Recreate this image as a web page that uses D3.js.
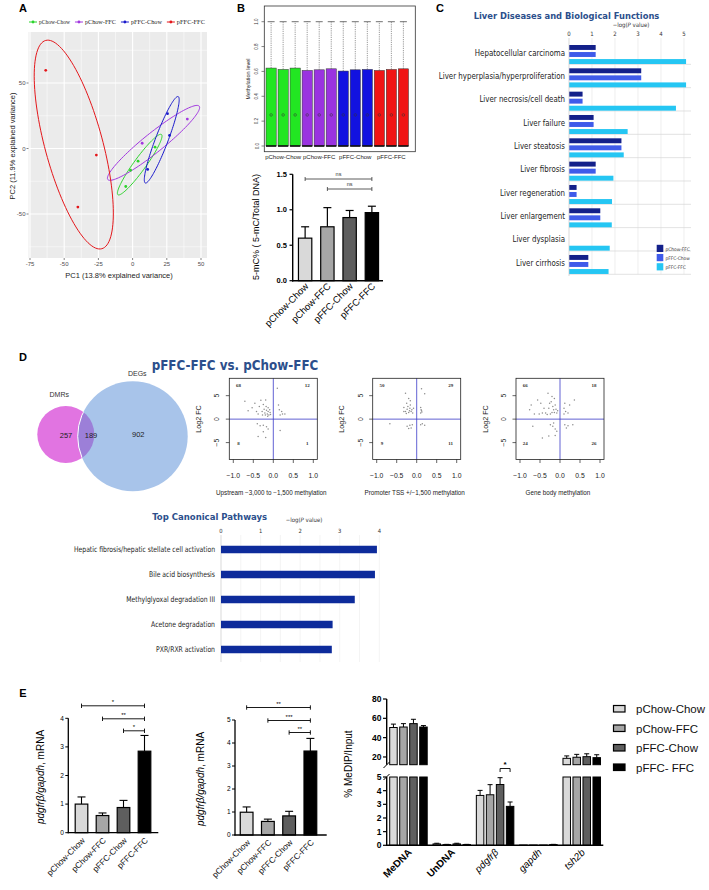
<!DOCTYPE html>
<html><head><meta charset="utf-8">
<script src="https://cdn.jsdelivr.net/npm/d3@7"></script>
<style>body{margin:0;background:#fff}svg{display:block}</style>
</head><body><svg id="c" width="709" height="890"></svg>
<script>
// ---------------- DATA ----------------
// Panel A (PCA)
const pcaGroups=['pChow-Chow','pChow-FFC','pFFC-Chow','pFFC-FFC'];
const pcaPC1=[[-5,4,-1.5,16.4],[7,40],[25.5,27,11],[-63.5,-26.5,-40]];
const pcaPC2=[[-29,-9.7,-16.6,1],[4,22.5],[26.6,10,-16],[59.7,-5,-44.7]];
const ellCenter=[[5.2,-12.3],[15.3,4.3],[21.3,6.65],[-43,3]];
const ellMajor=[[15.9,23],[33.4,28],[12,33],[-20.5,79.5]];
const ellMinor=[[3.6,-2.7],[4.5,-5.8],[4.3,-1.7],[20.4,5.7]];
const pcaXTicks=[-75,-50,-25,0,25,50];
const pcaYTicks=[-50,0,50];
// Panel B top (methylation level boxplots)
const boxGroup=[0,0,0,1,1,1,2,2,2,3,3,3];
const boxQ1=[0,0,0,0,0,0,0,0,0,0,0,0];
const boxQ3=[0.627,0.616,0.627,0.608,0.613,0.621,0.603,0.613,0.616,0.608,0.616,0.621];
const boxMean=[0.25,0.25,0.25,0.25,0.25,0.25,0.25,0.25,0.25,0.25,0.25,0.25];
const boxMax=[1,1,1,1,1,1,1,1,1,1,1,1];
const boxYTicks=[0,0.2,0.4,0.6,0.8,1.0];
// Panel B bottom (5-mC%)
const mcGroups=['pChow-Chow','pChow-FFC','pFFC-Chow','pFFC-FFC'];
const mcValues=[0.6,0.76,0.89,0.96];
const mcErr=[0.16,0.27,0.10,0.09];
const mcTicks=[0,0.5,1.0,1.5];
// Panel C
const ldCategories=['Hepatocellular carcinoma','Liver hyperplasia/hyperproliferation','Liver necrosis/cell death','Liver failure','Liver steatosis','Liver fibrosis','Liver regeneration','Liver enlargement','Liver dysplasia','Liver cirrhosis'];
const ldSeries=['pChow-FFC','pFFC-Chow','pFFC-FFC'];
const ldChowFFC=[1.16,3.14,0.59,1.07,2.28,1.16,0.33,1.36,0,0.84];
const ldFFCChow=[1.16,3.14,0.59,1.07,2.28,1.16,0.33,1.36,0,0.84];
const ldFFCFFC=[5.09,5.09,4.65,2.55,2.38,1.93,1.87,1.86,1.77,1.72];
const ldTicks=[0,1,2,3,4,5];
// Panel D Venn
const vennSets=['DMRs','DEGs'];
const vennCounts=[257,189,902];
// Panel D scatter plots
const scatterTitles=['Upstream \u22123,000 to \u22121,500 methylation','Promoter TSS +/\u22121,500 methylation','Gene body methylation'];
const quadCounts=[[68,12,8,1],[50,29,9,11],[66,18,24,26]];
const scatterXTicks=[-1,-0.5,0,0.5,1];
const scatterYTicks=[-5,0,5];
const scatterUpstream=[[-0.71,3.8],[-0.63,1.8],[-0.53,2.4],[-0.46,3.4],[-0.42,1.6],[-0.35,2.7],[-0.31,4.0],[-0.28,1.6],[-0.25,3.1],[-0.23,2.1],[-0.21,1.3],[-0.19,4.1],[-0.18,2.7],[-0.17,1.9],[-0.15,1.1],[-0.13,2.4],[-0.13,1.6],[-0.11,0.9],[-0.09,2.0],[-0.08,1.4],[-0.07,1.0],[-0.27,0.9],[-0.38,1.1],[-0.2,0.9],[-0.14,0.6],
 [0.1,6.6],[0.13,3.0],[0.15,2.0],[0.21,1.6],[0.23,1.1],[0.29,1.1],[0.17,0.9],
 [-0.4,-1.0],[-0.33,-1.4],[-0.25,-1.3],[-0.17,-1.6],[-0.13,-2.1],[-0.38,-3.7],[-0.19,-3.9],[-0.25,-2.7],
 [0.17,-2.4]];
const scatterPromoter=[[-0.28,5.5],[-0.2,4.4],[-0.16,3.9],[-0.25,3.4],[-0.32,2.5],[-0.24,2.1],[-0.17,2.3],[-0.12,2.0],[-0.28,1.6],[-0.2,1.4],[-0.14,1.6],[-0.1,1.3],[-0.22,2.7],[-0.16,3.0],[-0.08,2.3],[-0.32,1.6],[-0.18,1.8],[-0.26,1.2],
 [0.12,6.5],[0.2,5.4],[0.1,2.5],[0.11,2.0],[0.13,1.5],[0.1,1.3],[0.12,1.8],
 [-0.67,-1.0],[-0.24,-1.5],[-0.17,-1.3],[-0.14,-1.9],[-0.2,-2.0],[-0.11,-1.2],
 [0.1,-1.2],[0.2,-1.3],[0.14,-1.0]];
const scatterGeneBody=[[-0.72,3.0],[-0.56,4.1],[-0.76,2.0],[-0.64,1.1],[-0.52,1.1],[-0.44,1.3],[-0.36,1.3],[-0.28,2.3],[-0.26,3.4],[-0.3,5.5],[-0.2,4.8],[-0.22,3.7],[-0.18,2.7],[-0.16,2.0],[-0.14,1.4],[-0.12,3.0],[-0.1,2.1],[-0.08,1.3],[-0.2,1.4],[-0.24,1.1],[-0.32,1.0],[-0.4,2.3],[-0.48,3.4],[-0.06,1.8],[-0.14,4.4],
 [0.12,3.4],[0.1,2.3],[0.14,1.6],[0.1,1.1],[0.2,1.3],[0.36,4.1],[0.24,3.0],
 [-0.68,-1.5],[-0.44,-4.0],[-0.28,-3.6],[-0.12,-3.5],[-0.24,-1.2],[-0.18,-1.5],[-0.12,-2.1],[-0.08,-2.6],[-0.16,-0.8],
 [0.12,-1.2],[0.2,-1.4],[0.32,-1.2],[0.16,-1.9]];
// Panel D canonical pathways
const cpPathways=['Hepatic fibrosis/hepatic stellate cell activation','Bile acid biosynthesis','Methylglyoxal degradation III','Acetone degradation','PXR/RXR activation'];
const cpValues=[3.94,3.89,3.38,2.82,2.8];
const cpTicks=[0,1,2,3,4];
// Panel E
const eGroups=['pChow-Chow','pChow-FFC','pFFC-Chow','pFFC-FFC'];
const e1Values=[1.0,0.6,0.88,2.85];
const e1Err=[0.25,0.09,0.25,0.55];
const e1Ticks=[0,1,2,3,4];
const e1Sig=[[0,3,'*'],[1,3,'**'],[2,3,'*']];
const e2Values=[0.99,0.59,0.83,3.65];
const e2Err=[0.23,0.1,0.2,0.55];
const e2Ticks=[0,1,2,3,4,5];
const e2Sig=[[0,3,'**'],[1,3,'***'],[2,3,'**']];
const e3Genes=['MeDNA','UnDNA','pdgfr\u03b2','gapdh','tsh2b'];
const e3Series=['pChow-Chow','pChow-FFC','pFFC-Chow','pFFC- FFC'];
const e3ChowChow=[50.5,0.1,3.65,0.02,18.6];
const e3ChowFFC=[51,0.05,3.7,0.02,19.7];
const e3FFCChow=[54.5,0.1,4.45,0.02,20.3];
const e3FFCFFC=[51,0.05,2.85,0.05,19.3];
const e3ErrChowChow=[3.5,0.05,0.37,0,2.5];
const e3ErrChowFFC=[3.5,0.02,0.74,0,3];
const e3ErrFFCChow=[4.5,0.05,0.5,0,3];
const e3ErrFFCFFC=[1.5,0.02,0.32,0.02,3];
const e3UpperTicks=[20,40,60,80];
const e3LowerTicks=[0,1,2,3,4,5];

// ---------------- STYLE ----------------
const SANS='"Liberation Sans",Arial,Helvetica,sans-serif';
const NARROW='"Liberation Sans Narrow","Arial Narrow","DejaVu Sans Condensed",sans-serif';
const SERIF='"Liberation Serif","Times New Roman",serif';
const pcaColors=['#2bd42b','#a238e0','#1a1acc','#e4171b'];
const boxColors=['#22e622','#9a33e0','#1212e0','#f01515'];
const greyFills=['#d9d9d9','#a6a6a6','#5e5e5e','#000000'];
const ldColors=['#13208a','#3f5bea','#25c6f3'];
const titleBlue='#2c4f8c';

const svg=d3.select('#c');
svg.append('rect').attr('width',709).attr('height',890).attr('fill','#fff');
const defs=svg.append('defs');

function T(g,x,y,s,o={}){
  const t=g.append('text').attr('x',x).attr('y',y).text(s)
    .attr('font-family',o.ff||SANS).attr('font-size',o.fs||8).attr('fill',o.fill||'#000')
    .attr('text-anchor',o.anchor||'start');
  if(o.fw) t.attr('font-weight',o.fw);
  if(o.fst) t.attr('font-style',o.fst);
  if(o.dy) t.attr('dy',o.dy);
  if(o.rot!=null) t.attr('transform',`rotate(${o.rot},${x},${y})`);
  return t;
}
// shrink font so the natural width is at most `target`
function fit(t,target){
  const w=t.node().getComputedTextLength();
  if(w>target) t.attr('font-size',(+t.attr('font-size'))*target/w);
  return t;
}
// horizontal squeeze keeping height
function squeeze(t,f){
  const w=t.node().getComputedTextLength();
  t.attr('textLength',w*f).attr('lengthAdjust','spacingAndGlyphs');
  return t;
}
function L(g,x1,y1,x2,y2,c,w,dash){
  const l=g.append('line').attr('x1',x1).attr('y1',y1).attr('x2',x2).attr('y2',y2)
    .attr('stroke',c||'#000').attr('stroke-width',w||1);
  if(dash) l.attr('stroke-dasharray',dash);
  return l;
}

// panel letters
[['A',23,12],['B',241,12],['C',440,12],['D',23,361],['E',23,697]].forEach(d=>T(svg,d[1],d[2],d[0],{fs:11,fw:'bold',anchor:'middle'}));

// ================= PANEL A =================
(function(){
  const g=svg.append('g');
  const xA=d3.scaleLinear().domain([-75,50]).range([30,201]);
  const yA=d3.scaleLinear().domain([-50,50]).range([214,83]);
  const P={l:28.5,r:207,t:32,b:258};
  defs.append('clipPath').attr('id','clipA').append('rect').attr('x',P.l).attr('y',P.t).attr('width',P.r-P.l).attr('height',P.b-P.t);
  g.append('rect').attr('x',P.l).attr('y',P.t).attr('width',P.r-P.l).attr('height',P.b-P.t).attr('fill','#ebebeb');
  const gg=g.append('g').attr('clip-path','url(#clipA)');
  const xMinor=pcaXTicks.slice(1).map((v,i)=>(v+pcaXTicks[i])/2);
  const yMinor=[pcaYTicks[0]-25].concat(pcaYTicks.map(v=>v+25));
  xMinor.forEach(v=>L(gg,xA(v),P.t,xA(v),P.b,'#fff',0.5));
  yMinor.forEach(v=>L(gg,P.l,yA(v),P.r,yA(v),'#fff',0.5));
  pcaXTicks.forEach(v=>L(gg,xA(v),P.t,xA(v),P.b,'#fff',1.1));
  pcaYTicks.forEach(v=>L(gg,P.l,yA(v),P.r,yA(v),'#fff',1.1));
  ellCenter.forEach((c,i)=>{
    const pts=d3.range(0,2*Math.PI+0.01,Math.PI/60).map(t=>[
      xA(c[0]+ellMajor[i][0]*Math.cos(t)+ellMinor[i][0]*Math.sin(t)),
      yA(c[1]+ellMajor[i][1]*Math.cos(t)+ellMinor[i][1]*Math.sin(t))]);
    g.append('path').attr('d',d3.line()(pts)).attr('fill','none').attr('stroke',pcaColors[i]).attr('stroke-width',1);
  });
  pcaPC1.forEach((arr,i)=>arr.forEach((v,j)=>{
    g.append('circle').attr('cx',xA(v)).attr('cy',yA(pcaPC2[i][j])).attr('r',1.4).attr('fill',pcaColors[i]);
  }));
  pcaXTicks.forEach(v=>{L(g,xA(v),P.b,xA(v),P.b+2,'#333',0.6);T(g,xA(v),P.b+8,String(v),{fs:6,fill:'#4d4d4d',anchor:'middle'});});
  pcaYTicks.forEach(v=>{L(g,P.l-2,yA(v),P.l,yA(v),'#333',0.6);T(g,P.l-3,yA(v)+2,String(v),{fs:6,fill:'#4d4d4d',anchor:'end'});});
  T(g,119,278,'PC1 (13.8% explained variance)',{fs:7.5,anchor:'middle',fill:'#222'});
  T(g,15,146,'PC2 (11.9% explained variance)',{fs:7.5,anchor:'middle',fill:'#222',rot:-90});
  // legend, laid out sequentially
  let lx=29;
  pcaGroups.forEach((s,i)=>{
    L(g,lx,22,lx+8,22,pcaColors[i],1);
    g.append('circle').attr('cx',lx+4).attr('cy',22).attr('r',1.4).attr('fill',pcaColors[i]);
    const t=T(g,lx+10,24.2,s,{fs:6.4,ff:SERIF,fill:'#222'});
    fit(t,31);
    lx+=10+t.node().getComputedTextLength()+5;
  });
})();

// ================= PANEL B top =================
(function(){
  const g=svg.append('g');
  const y=d3.scaleLinear().domain([0,1]).range([146,21.7]);
  const x=d3.scaleBand().domain(d3.range(12)).range([266,408.5]).paddingInner(0.15);
  g.append('rect').attr('x',264.3).attr('y',6).attr('width',151).attr('height',145.7).attr('fill','none').attr('stroke','#333').attr('stroke-width',0.8);
  boxQ3.forEach((q3,i)=>{
    const x0=x(i), w=x.bandwidth(), cx=x0+w/2;
    L(g,cx,y(q3),cx,y(boxMax[i]),'#555',0.6,'1.2,1');
    L(g,cx-3.5,y(boxMax[i]),cx+3.5,y(boxMax[i]),'#333',0.7);
    g.append('rect').attr('x',x0).attr('y',y(q3)).attr('width',w).attr('height',y(boxQ1[i])-y(q3))
      .attr('fill',boxColors[boxGroup[i]]).attr('stroke','#333').attr('stroke-width',0.5);
    L(g,x0,y(boxQ1[i]),x0+w,y(boxQ1[i]),'#111',1.6);
    g.append('circle').attr('cx',cx).attr('cy',y(boxMean[i])).attr('r',1.3).attr('fill','none').attr('stroke','#333').attr('stroke-width',0.5);
  });
  boxYTicks.forEach(v=>{L(g,261.5,y(v),264.3,y(v),'#333',0.6);T(g,258.5,y(v),v.toFixed(1),{fs:4.5,anchor:'middle',rot:-90,fill:'#333'});});
  T(g,250,79,'Methylation level',{fs:5.5,anchor:'middle',rot:-90,fill:'#222'});
  mcGroups.forEach((s,gi)=>{
    const cx=(x(gi*3)+x(gi*3+2)+x.bandwidth())/2;
    T(g,cx,158.5,s,{fs:6,anchor:'middle',fill:'#222'});
  });
})();

// ================= PANEL B bottom =================
(function(){
  const g=svg.append('g');
  const y=d3.scaleLinear().domain([0,1.5]).range([280.7,174.3]);
  const x=d3.scaleBand().domain(mcGroups).range([294,383]).paddingInner(0.4).paddingOuter(0.2);
  mcGroups.forEach((s,i)=>{
    const x0=x(s),w=x.bandwidth(),cx=x0+w/2;
    L(g,cx,y(mcValues[i]),cx,y(mcValues[i]+mcErr[i]),'#000',1.2);
    L(g,cx-4,y(mcValues[i]+mcErr[i]),cx+4,y(mcValues[i]+mcErr[i]),'#000',1.2);
    g.append('rect').attr('x',x0).attr('y',y(mcValues[i])).attr('width',w).attr('height',y(0)-y(mcValues[i]))
      .attr('fill',greyFills[i]).attr('stroke','#000').attr('stroke-width',1.2);
    T(g,cx+4,287,s,{fs:9.5,anchor:'end',rot:-45});
  });
  L(g,292.7,174.3,292.7,281.4,'#000',1.4);
  L(g,292,280.7,383,280.7,'#000',1.4);
  mcTicks.forEach(v=>{L(g,289.5,y(v),292.7,y(v),'#000',1.2);T(g,287,y(v)+2.6,v.toFixed(1),{fs:7.5,fw:'bold',anchor:'end'});});
  T(g,259,227,'5-mC% ( 5-mC/Total DNA)',{fs:9,anchor:'middle',rot:-90});
  const cx=i=>x(mcGroups[i])+x.bandwidth()/2;
  [[0,3,179,'ns'],[1,3,189,'ns']].forEach(b=>{
    L(g,cx(b[0]),b[2],cx(b[1]),b[2],'#333',0.8);
    L(g,cx(b[0]),b[2]-2,cx(b[0]),b[2]+2,'#333',0.8);
    L(g,cx(b[1]),b[2]-2,cx(b[1]),b[2]+2,'#333',0.8);
    T(g,(cx(b[0])+cx(b[1]))/2,b[2]-3,b[3],{fs:5.5,anchor:'middle',fill:'#333'});
  });
})();

// ================= PANEL C =================
(function(){
  const g=svg.append('g');
  const x=d3.scaleLinear().domain([0,5]).range([569,684]);
  const y=d3.scaleBand().domain(ldCategories).range([41,274.3]);
  const yi=d3.scaleBand().domain(ldSeries).range([4,23]).paddingInner(0.3);
  const series=[ldChowFFC,ldFFCChow,ldFFCFFC];
  fit(T(g,566.5,19,'Liver Diseases and Biological Functions',{fs:13,fw:'bold',ff:NARROW,fill:titleBlue,anchor:'middle'}),186);
  const ax=T(g,631,27,'',{fs:6,anchor:'middle',ff:NARROW,fill:'#333'});
  ax.append('tspan').text('\u2212log(');ax.append('tspan').attr('font-style','italic').text('P');ax.append('tspan').text(' value)');
  ldTicks.forEach(v=>{ if(v>0) L(g,x(v),38,x(v),274.3,'#e3e3e3',0.6); T(g,x(v),36.3,String(v),{fs:6,anchor:'middle',ff:NARROW,fill:'#333'});});
  ldCategories.forEach((c,i)=>{
    L(g,569,y(c)+y.bandwidth(),691,y(c)+y.bandwidth(),'#d6d6d6',0.7);
    series.forEach((s,k)=>{
      if(s[i]>0) g.append('rect').attr('x',x(0)).attr('y',y(c)+yi(ldSeries[k])).attr('width',x(s[i])-x(0)).attr('height',yi.bandwidth()).attr('fill',ldColors[k]);
    });
    squeeze(T(g,565,y(c)+y.bandwidth()/2+3,c,{fs:9,anchor:'end',ff:NARROW,fill:'#222'}),0.87);
  });
  L(g,569,38,569,276,'#c8c8c8',0.7);
  ldSeries.forEach((s,k)=>{
    g.append('rect').attr('x',656.7).attr('y',244.8+k*9.2).attr('width',6.6).attr('height',7.2).attr('fill',ldColors[k]);
    T(g,665.5,250.5+k*9.2,s,{fs:4.8,ff:NARROW,fill:'#333'});
  });
})();

// ================= PANEL D =================
(function(){
  const g=svg.append('g');
  fit(T(g,235,369.5,'pFFC-FFC vs. pChow-FFC',{fs:17,fw:'bold',ff:NARROW,fill:titleBlue,anchor:'middle'}),167);
  // Venn
  const cP={x:65.8,y:434.5,r:28.5}, cB={x:132.7,y:436.3,r:55};
  defs.append('clipPath').attr('id','clipPink').append('circle').attr('cx',cP.x).attr('cy',cP.y).attr('r',cP.r);
  g.append('circle').attr('cx',cP.x).attr('cy',cP.y).attr('r',cP.r).attr('fill','#e174e1');
  g.append('circle').attr('cx',cB.x).attr('cy',cB.y).attr('r',cB.r).attr('fill','#a8c4ea');
  g.append('circle').attr('cx',cB.x).attr('cy',cB.y).attr('r',cB.r).attr('fill','#9c7fd8').attr('clip-path','url(#clipPink)');
  g.append('circle').attr('cx',cB.x).attr('cy',cB.y).attr('r',cB.r).attr('fill','none').attr('stroke','#fff').attr('stroke-width',1).attr('clip-path','url(#clipPink)');
  T(g,66,437.5,String(vennCounts[0]),{fs:7.5,anchor:'middle',fill:'#222'});
  T(g,91,437.5,String(vennCounts[1]),{fs:7.5,anchor:'middle',fill:'#222'});
  T(g,138.3,436.5,String(vennCounts[2]),{fs:7.5,anchor:'middle',fill:'#222'});
  T(g,59.3,396.5,vennSets[0],{fs:7,anchor:'middle',fill:'#333'});
  T(g,137.3,375.5,vennSets[1],{fs:7,anchor:'middle',fill:'#333'});
  // scatters
  const lefts=[229.3,372.7,516];
  [scatterUpstream,scatterPromoter,scatterGeneBody].forEach((pts,k)=>{
    const left=lefts[k];
    const x=d3.scaleLinear().domain([-1.1,1.1]).range([left,left+88]);
    const y=d3.scaleLinear().domain([-8.6,8.7]).range([459.5,378.3]);
    L(g,x(0),378.3,x(0),459.5,'#3a3ac8',0.8);
    L(g,left,y(0),left+88,y(0),'#3a3ac8',0.8);
    g.append('g').selectAll('circle').data(pts).join('circle').attr('cx',d=>x(d[0])).attr('cy',d=>y(d[1])).attr('r',0.75).attr('fill','#8c8c8c');
    g.append('rect').attr('x',left).attr('y',378.3).attr('width',88).attr('height',81.2).attr('fill','none').attr('stroke','#222').attr('stroke-width',0.8);
    scatterXTicks.forEach(v=>{L(g,x(v),459.5,x(v),463,'#222',0.7);T(g,x(v),477.5,v.toFixed(1).replace('-','\u2212'),{fs:6.8,anchor:'middle',fill:'#222'});});
    scatterYTicks.forEach(v=>{L(g,left-3.5,y(v),left,y(v),'#222',0.7);T(g,left-10,y(v),String(v).replace('-','\u2212'),{fs:6.8,anchor:'middle',rot:-90,fill:'#222'});});
    const q=quadCounts[k];
    T(g,x(-0.87),y(6.8),String(q[0]),{fs:5,anchor:'middle',ff:SERIF,fw:'bold',fill:'#333'});
    T(g,x(0.85),y(6.8),String(q[1]),{fs:5,anchor:'middle',ff:SERIF,fw:'bold',fill:'#333'});
    T(g,x(-0.87),y(-5.6),String(q[2]),{fs:5,anchor:'middle',ff:SERIF,fw:'bold',fill:'#333'});
    T(g,x(0.85),y(-5.6),String(q[3]),{fs:5,anchor:'middle',ff:SERIF,fw:'bold',fill:'#333'});
    T(g,left-28.5,419,'Log2 FC',{fs:7.2,anchor:'middle',rot:-90,fill:'#222'});
    T(g,left+42,495,scatterTitles[k],{fs:6.3,anchor:'middle',fill:'#222'});
  });
  // canonical pathways
  const xp=d3.scaleLinear().domain([0,4]).range([221,379.3]);
  const yp=d3.scaleBand().domain(cpPathways).range([537,662]).paddingInner(0.7).paddingOuter(0.35);
  fit(T(g,209.7,519.5,'Top Canonical Pathways',{fs:13,fw:'bold',ff:NARROW,fill:titleBlue,anchor:'middle'}),115);
  const ax=T(g,304,522,'',{fs:6,anchor:'middle',ff:NARROW,fill:'#333'});
  ax.append('tspan').text('\u2212log(');ax.append('tspan').attr('font-style','italic').text('P');ax.append('tspan').text(' value)');
  d3.range(0.5,4.01,0.5).forEach(v=>L(g,xp(v),535,xp(v),662,'#ececec',0.6));
  cpTicks.forEach(v=>T(g,xp(v),533,String(v),{fs:5.8,anchor:'middle',ff:NARROW,fill:'#333'}));
  L(g,221,535,221,662,'#c8c8c8',0.7);
  cpPathways.forEach((p,i)=>{
    g.append('rect').attr('x',xp(0)).attr('y',yp(p)).attr('width',xp(cpValues[i])-xp(0)).attr('height',yp.bandwidth()).attr('fill','#0d2b9b');
    squeeze(T(g,215,yp(p)+yp.bandwidth()/2+2.8,p,{fs:7.8,anchor:'end',ff:NARROW,fill:'#222'}),0.87);
  });
})();

// ================= PANEL E =================
function barPanel(vals,errs,ticks,sig,yRange,xRange,axisX,axisRight,labelX,labelY,xlabY){
  const g=svg.append('g');
  const y=d3.scaleLinear().domain([0,ticks[ticks.length-1]]).range(yRange);
  const x=d3.scaleBand().domain(eGroups).range(xRange).paddingInner(0.4).paddingOuter(0.2);
  const cx=i=>x(eGroups[i])+x.bandwidth()/2;
  eGroups.forEach((s,i)=>{
    L(g,cx(i),y(vals[i]),cx(i),y(vals[i]+errs[i]),'#000',1.1);
    L(g,cx(i)-4,y(vals[i]+errs[i]),cx(i)+4,y(vals[i]+errs[i]),'#000',1.1);
    g.append('rect').attr('x',x(s)).attr('y',y(vals[i])).attr('width',x.bandwidth()).attr('height',y(0)-y(vals[i]))
      .attr('fill',greyFills[i]).attr('stroke','#000').attr('stroke-width',1.2);
    T(g,cx(i)+4,xlabY,s,{fs:8.3,anchor:'end',rot:-45,fill:'#111'});
  });
  L(g,axisX,yRange[1],axisX,yRange[0]+0.6,'#000',1.3);
  L(g,axisX-0.6,yRange[0],axisRight,yRange[0],'#000',1.3);
  ticks.forEach(v=>{L(g,axisX-3,y(v),axisX,y(v),'#000',1);T(g,axisX-4.5,y(v)+2.3,String(v),{fs:6.5,anchor:'end'});});
  const yl=g.append('text').attr('transform',`translate(${labelX},${labelY}) rotate(-90)`).attr('text-anchor','middle').attr('font-size',10).attr('font-family',SANS);
  yl.append('tspan').attr('font-style','italic').text('pdgfr\u03b2/gapdh');
  yl.append('tspan').text(', mRNA');
  const by=[yRange[1]-12.5,yRange[1]+0.5,yRange[1]+12.5];
  sig.forEach((b,k)=>{
    L(g,cx(b[0]),by[k],cx(b[1]),by[k],'#000',0.9);
    L(g,cx(b[0]),by[k]-2.2,cx(b[0]),by[k]+2.2,'#000',0.9);
    L(g,cx(b[1]),by[k]-2.2,cx(b[1]),by[k]+2.2,'#000',0.9);
    T(g,(cx(b[0])+cx(b[1]))/2,by[k]-2,b[2],{fs:6,anchor:'middle'});
  });
}
barPanel(e1Values,e1Err,e1Ticks,e1Sig,[832.7,718.3],[71,155],68.3,158.3,43.5,777,841);
barPanel(e2Values,e2Err,e2Ticks,e2Sig,[835,720],[236,321],235,326.7,203.5,779,843);

(function(){
  const g=svg.append('g');
  const yL=d3.scaleLinear().domain([0,5]).range([845.3,777]);
  const yU=d3.scaleLinear().domain([12,80]).range([764.7,699]);
  const xG=d3.scaleBand().domain(e3Genes).range([386.7,603.3]);
  const xI=d3.scaleBand().domain(d3.range(4)).range([3,40.5]).paddingInner(0.25);
  const vals=[e3ChowChow,e3ChowFFC,e3FFCChow,e3FFCFFC];
  const errs=[e3ErrChowChow,e3ErrChowFFC,e3ErrFFCChow,e3ErrFFCFFC];
  e3Genes.forEach((gene,gi)=>{
    vals.forEach((ser,si)=>{
      const v=ser[gi], e=errs[si][gi];
      const x0=xG(gene)+xI(si), w=xI.bandwidth(), cx=x0+w/2;
      if(v>5){
        L(g,cx,yU(v),cx,yU(v+e),'#000',1);
        L(g,cx-2.5,yU(v+e),cx+2.5,yU(v+e),'#000',1);
        g.append('rect').attr('x',x0).attr('y',yU(v)).attr('width',w).attr('height',yU(12)-yU(v)).attr('fill',greyFills[si]).attr('stroke','#000').attr('stroke-width',1);
        g.append('rect').attr('x',x0).attr('y',yL(5)).attr('width',w).attr('height',yL(0)-yL(5)).attr('fill',greyFills[si]).attr('stroke','#000').attr('stroke-width',1);
      } else {
        if(e>0){L(g,cx,yL(v),cx,yL(v+e),'#000',1);L(g,cx-2.5,yL(v+e),cx+2.5,yL(v+e),'#000',1);}
        g.append('rect').attr('x',x0).attr('y',yL(v)).attr('width',w).attr('height',yL(0)-yL(v)).attr('fill',greyFills[si]).attr('stroke','#000').attr('stroke-width',1);
      }
    });
    const lab=T(g,xG(gene)+xG.bandwidth()/2+4,853,gene,{fs:10,anchor:'end',rot:-45});
    if(gi<2) lab.attr('font-weight','bold'); else lab.attr('font-style','italic');
  });
  L(g,386.7,777,386.7,846,'#000',1.4);
  L(g,386.7,699,386.7,764.7,'#000',1.4);
  L(g,386,845.3,603.3,845.3,'#000',1.4);
  L(g,383.5,768,389.5,762,'#000',1);
  L(g,383.5,780,389.5,774,'#000',1);
  e3LowerTicks.forEach(v=>{L(g,383,yL(v),386.7,yL(v),'#000',1.2);T(g,381.5,yL(v)+3,String(v),{fs:8.5,fw:'bold',anchor:'end'});});
  e3UpperTicks.forEach(v=>{L(g,383,yU(v),386.7,yU(v),'#000',1.2);T(g,381.5,yU(v)+3,String(v),{fs:8.5,fw:'bold',anchor:'end'});});
  T(g,352,764,'% MeDIP/Input',{fs:10,anchor:'middle',rot:-90});
  const gx=xG(e3Genes[2]);
  const c3=gx+xI(2)+xI.bandwidth()/2, c4=gx+xI(3)+xI.bandwidth()/2;
  L(g,c3,768.5,c4,768.5,'#000',0.9);L(g,c3,768.5,c3,772,'#000',0.9);L(g,c4,768.5,c4,772,'#000',0.9);
  T(g,(c3+c4)/2,767,'*',{fs:8,anchor:'middle',fw:'bold'});
  e3Series.forEach((s,i)=>{
    g.append('rect').attr('x',613.5).attr('y',705.5+i*19.5).attr('width',11.5).attr('height',6.5).attr('fill',greyFills[i]).attr('stroke','#000').attr('stroke-width',1.2);
    T(g,636,713+i*19.5,s,{fs:11.5,fill:'#111'});
  });
})();
</script></body></html>
